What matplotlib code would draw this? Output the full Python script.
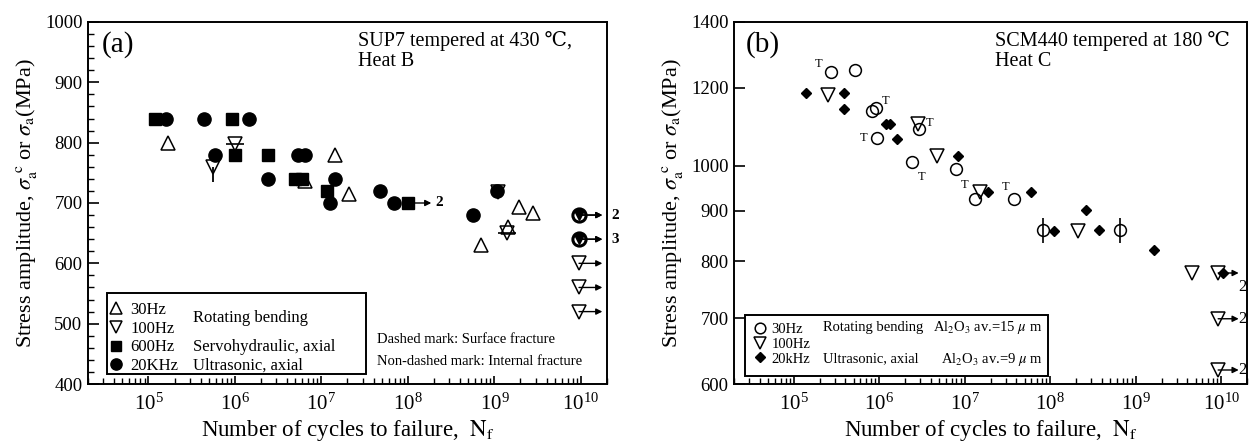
import matplotlib
matplotlib.use('Agg')
import matplotlib.pyplot as plt
import numpy as np
from matplotlib.patches import Rectangle
from matplotlib.path import Path
from matplotlib.ticker import (LogLocator, MultipleLocator, FixedLocator,
                               FixedFormatter, NullLocator, NullFormatter)

plt.rcParams['font.family'] = ['Liberation Serif', 'DejaVu Serif', 'Noto Sans CJK JP']
plt.rcParams['mathtext.fontset'] = 'stix'

# ---------------- panel (a): SUP7 tempered at 430 C, heat B ----------------
a_30hz_n = [1.7e5, 6.5e6, 1.45e7, 2.1e7, 6.9e8, 1.45e9, 1.9e9, 2.8e9]
a_30hz_s = [800, 737, 780, 715, 630, 660, 693, 683]

a_100hz_n = [5.6e5, 1.0e6, 1.1e9, 1.4e9]
a_100hz_s = [760, 797, 718, 650]
a_100hz_surface = ['tail', 'bar', None, 'bar']   # dashed marks (surface fracture)
a_100hz_run_n = [9.5e9, 9.5e9, 9.5e9, 9.5e9, 9.5e9]
a_100hz_run_s = [680, 640, 600, 560, 520]

a_600hz_n = [1.2e5, 9.3e5, 1.0e6, 2.4e6, 5.0e6, 6.0e6, 1.15e7]
a_600hz_s = [840, 840, 780, 780, 740, 740, 720]
a_600hz_run_n = [1.0e8]
a_600hz_run_s = [700]
a_600hz_run_lab = ['2']

a_20k_n = [1.6e5, 4.4e5, 1.45e6, 5.9e5, 5.3e6, 6.5e6, 2.4e6, 1.45e7, 1.27e7,
           4.8e7, 6.9e7, 1.07e9, 5.6e8]
a_20k_s = [840, 840, 840, 780, 780, 780, 740, 740, 700, 720, 700, 720, 680]
a_20k_run_n = [9.5e9, 9.5e9]
a_20k_run_s = [680, 640]
a_20k_run_lab = ['2', '3']

# ---------------- panel (b): SCM440 tempered at 180 C, heat C ----------------
b_30hz_n = [2.7e5, 5.2e5, 8.3e5, 9.2e5, 9.5e5, 2.95e6, 2.4e6, 7.8e6, 1.3e7,
            3.8e7, 8.3e7, 6.5e8]
b_30hz_s = [1245, 1252, 1136, 1146, 1067, 1090, 1009, 992, 925, 926, 860, 860]
b_30hz_T = [0, 3, 4, 5, 6, 8, 9]          # points marked "T"
b_30hz_surface = [10, 11]                 # points with a bar (surface fracture)

b_100hz_n = [2.5e5, 2.8e6, 4.7e6, 1.5e7, 2.1e8, 4.6e9]
b_100hz_s = [1180, 1103, 1023, 940, 858, 778]
b_100hz_run_n = [9.2e9, 9.2e9, 9.2e9]
b_100hz_run_s = [778, 699, 620]
b_100hz_run_lab = ['2', '2', '2']

b_20k_n = [1.4e5, 3.9e5, 3.9e5, 1.2e6, 1.35e6, 1.6e6, 8.3e6, 1.85e7, 6.0e7,
           2.6e8, 1.1e8, 3.7e8, 1.65e9]
b_20k_s = [1185, 1185, 1142, 1103, 1103, 1065, 1023, 940, 940, 902, 858, 860, 821]
b_20k_run_n = [1.05e10]
b_20k_run_s = [778]

b_yticks = [600, 700, 800, 900, 1000, 1200, 1400]

ylabel = r'Stress amplitude, $\sigma_{\rm a}^{\ \rm c}$ or $\sigma_{\rm a}$(MPa)'
xlabel = r'Number of cycles to failure,  $\rm N_f$'


def style_axes(ax):
    ax.set_xscale('log')
    ax.set_xlim(2e4, 2e10)
    ax.xaxis.set_major_locator(LogLocator(base=10, numticks=20))
    ax.xaxis.set_minor_locator(LogLocator(base=10, subs=np.arange(2, 10), numticks=20))
    ax.xaxis.set_minor_formatter(NullFormatter())
    ax.tick_params(which='both', direction='in', top=False, right=False)
    ax.tick_params(axis='x', which='major', length=6, width=1.2, labelsize=15, pad=7)
    ax.tick_params(axis='x', which='minor', length=4, width=1.0)
    ax.tick_params(axis='y', which='major', length=8, width=1.2, labelsize=13.5, pad=4)
    ax.tick_params(axis='y', which='minor', length=4, width=1.0)
    for sp in ax.spines.values():
        sp.set_linewidth(1.4)
    ax.set_xlabel(xlabel, fontsize=16.5, labelpad=2)
    ax.set_ylabel(ylabel, fontsize=16, labelpad=4)


def runouts(ax, n, s, labels=None, length=0.27, gap=0.05, lab_fs=11, bold=True,
            below_first=False):
    for i in range(len(n)):
        head = n[i] * 10 ** length
        ax.annotate('', xy=(head, s[i]), xytext=(n[i], s[i]),
                    arrowprops=dict(arrowstyle='-|>', color='k', lw=1.0,
                                    mutation_scale=9, shrinkA=0, shrinkB=0),
                    annotation_clip=False)
        if labels:
            if below_first and i == 0:
                ax.text(head * 10 ** gap, s[i] * 0.985, labels[i], ha='left', va='top',
                        fontsize=lab_fs, clip_on=False)
            else:
                ax.text(head * 10 ** gap, s[i], labels[i], ha='left', va='center',
                        fontsize=lab_fs, fontweight='bold' if bold else 'normal',
                        clip_on=False)


tail = Path([(0, 0), (0, -1)])

fig = plt.figure(figsize=(12.52, 4.46), dpi=100)
ax1 = fig.add_axes([0.0703, 0.139, 0.4145, 0.8117])
ax2 = fig.add_axes([0.5863, 0.139, 0.4097, 0.8117])

# ---------------- draw (a) ----------------
style_axes(ax1)
ax1.set_ylim(400, 1000)
ax1.yaxis.set_major_locator(MultipleLocator(100))
ax1.yaxis.set_minor_locator(MultipleLocator(20))

open_kw = dict(mfc='none', mec='k', mew=1.1, ls='none')
h30, = ax1.plot(a_30hz_n, a_30hz_s, '^', ms=10.5, **open_kw)
h100, = ax1.plot(a_100hz_n, a_100hz_s, 'v', ms=10.5, **open_kw)
h600, = ax1.plot(a_600hz_n + a_600hz_run_n, a_600hz_s + a_600hz_run_s, 's',
                 ms=9, color='k', ls='none')
h20k, = ax1.plot(a_20k_n, a_20k_s, 'o', ms=9.5, color='k', ls='none')
ax1.plot(a_20k_run_n, a_20k_run_s, 'o', ms=9.5, mfc='white', mec='k', mew=2.2, ls='none')
ax1.plot(a_100hz_run_n[:2], a_100hz_run_s[:2], 'v', ms=6.5, color='k', ls='none')
ax1.plot(a_100hz_run_n[2:], a_100hz_run_s[2:], 'v', ms=10.5, **open_kw)
for n, s, kind in zip(a_100hz_n, a_100hz_s, a_100hz_surface):
    if kind == 'tail':
        ax1.plot([n], [s], marker=tail, ms=22, mec='k', mew=1.3, ls='none')
    elif kind == 'bar':
        ax1.plot([n], [s], marker='_', ms=13, mec='k', mew=1.2, ls='none')

runouts(ax1, a_600hz_run_n, a_600hz_run_s, a_600hz_run_lab, gap=0.05)
runouts(ax1, a_100hz_run_n, a_100hz_run_s)
runouts(ax1, a_20k_run_n, a_20k_run_s, a_20k_run_lab, gap=0.1)

ax1.text(0.027, 0.975, '(a)', transform=ax1.transAxes, fontsize=21, va='top')
ax1.text(0.52, 0.975, 'SUP7 tempered at 430 \u2103,\nHeat B', transform=ax1.transAxes,
         fontsize=14.5, va='top', linespacing=1.05)
ax1.text(0.557, 0.122, 'Dashed mark: Surface fracture', transform=ax1.transAxes,
         fontsize=10.5, va='center')
ax1.text(0.557, 0.061, 'Non-dashed mark: Internal fracture', transform=ax1.transAxes,
         fontsize=10.5, va='center')

ax1.add_patch(Rectangle((0.037, 0.028), 0.499, 0.223, transform=ax1.transAxes,
                        fill=False, lw=1.4, ec='k', zorder=3))
ax1.legend([h30, h100, h600, h20k], ['30Hz', '100Hz', '600Hz', '20KHz'],
           loc='upper left', bbox_to_anchor=(0.042, 0.227), frameon=False,
           fontsize=12, borderpad=0, borderaxespad=0, labelspacing=0.17,
           handlelength=0.8, handletextpad=0.45, markerscale=0.85)
ax1.text(0.202, 0.182, 'Rotating bending', transform=ax1.transAxes, fontsize=12, va='center')
ax1.text(0.202, 0.102, 'Servohydraulic, axial', transform=ax1.transAxes, fontsize=12, va='center')
ax1.text(0.202, 0.050, 'Ultrasonic, axial', transform=ax1.transAxes, fontsize=12, va='center')

# ---------------- draw (b) ----------------
style_axes(ax2)
ax2.set_yscale('log')
ax2.set_ylim(600, 1400)
ax2.yaxis.set_major_locator(FixedLocator(b_yticks))
ax2.yaxis.set_major_formatter(FixedFormatter([str(v) for v in b_yticks]))
ax2.yaxis.set_minor_locator(NullLocator())
ax2.yaxis.set_minor_formatter(NullFormatter())

g30, = ax2.plot(b_30hz_n, b_30hz_s, 'o', ms=8.5, **open_kw)
g100, = ax2.plot(b_100hz_n + b_100hz_run_n, b_100hz_s + b_100hz_run_s, 'v', ms=9.5, **open_kw)
g20k, = ax2.plot(b_20k_n + b_20k_run_n, b_20k_s + b_20k_run_s, 'D', ms=5.5, color='k', ls='none')
ax2.plot([b_30hz_n[i] for i in b_30hz_surface], [b_30hz_s[i] for i in b_30hz_surface],
         marker='|', ms=18, mec='k', mew=1.2, ls='none')

t_offsets = [(-9, 6), (7, 5), (-10, 0), (7, 4), (7, -11), (-7, 10), (-6, 8)]
for i, (dx, dy) in zip(b_30hz_T, t_offsets):
    ax2.annotate('T', (b_30hz_n[i], b_30hz_s[i]), xytext=(dx, dy),
                 textcoords='offset points', fontsize=9, ha='center', va='center')

runouts(ax2, b_100hz_run_n, b_100hz_run_s, b_100hz_run_lab, length=0.24, gap=-0.01,
        lab_fs=12, bold=False, below_first=True)

ax2.text(0.022, 0.975, '(b)', transform=ax2.transAxes, fontsize=21, va='top')
ax2.text(0.509, 0.975, 'SCM440 tempered at 180 \u2103\nHeat C', transform=ax2.transAxes,
         fontsize=14.5, va='top', linespacing=1.05)

ax2.add_patch(Rectangle((0.021, 0.022), 0.591, 0.168, transform=ax2.transAxes,
                        fill=False, lw=1.4, ec='k', zorder=3))
ax2.legend([g30, g100, g20k], ['30Hz', '100Hz', '20kHz'],
           loc='upper left', bbox_to_anchor=(0.039, 0.170), frameon=False,
           fontsize=10.5, borderpad=0, borderaxespad=0, labelspacing=0.12,
           handlelength=0.8, handletextpad=0.4, markerscale=0.9)
ax2.text(0.173, 0.155, 'Rotating bending', transform=ax2.transAxes, fontsize=10.5, va='center')
ax2.text(0.173, 0.069, 'Ultrasonic, axial', transform=ax2.transAxes, fontsize=10.5, va='center')
ax2.text(0.602, 0.155, r'Al$_2$O$_3$ av.=15 $\mu$ m', transform=ax2.transAxes,
         fontsize=10.5, va='center', ha='right')
ax2.text(0.602, 0.069, r'Al$_2$O$_3$ av.=9 $\mu$ m', transform=ax2.transAxes,
         fontsize=10.5, va='center', ha='right')

fig.savefig('out.png', dpi=100)
